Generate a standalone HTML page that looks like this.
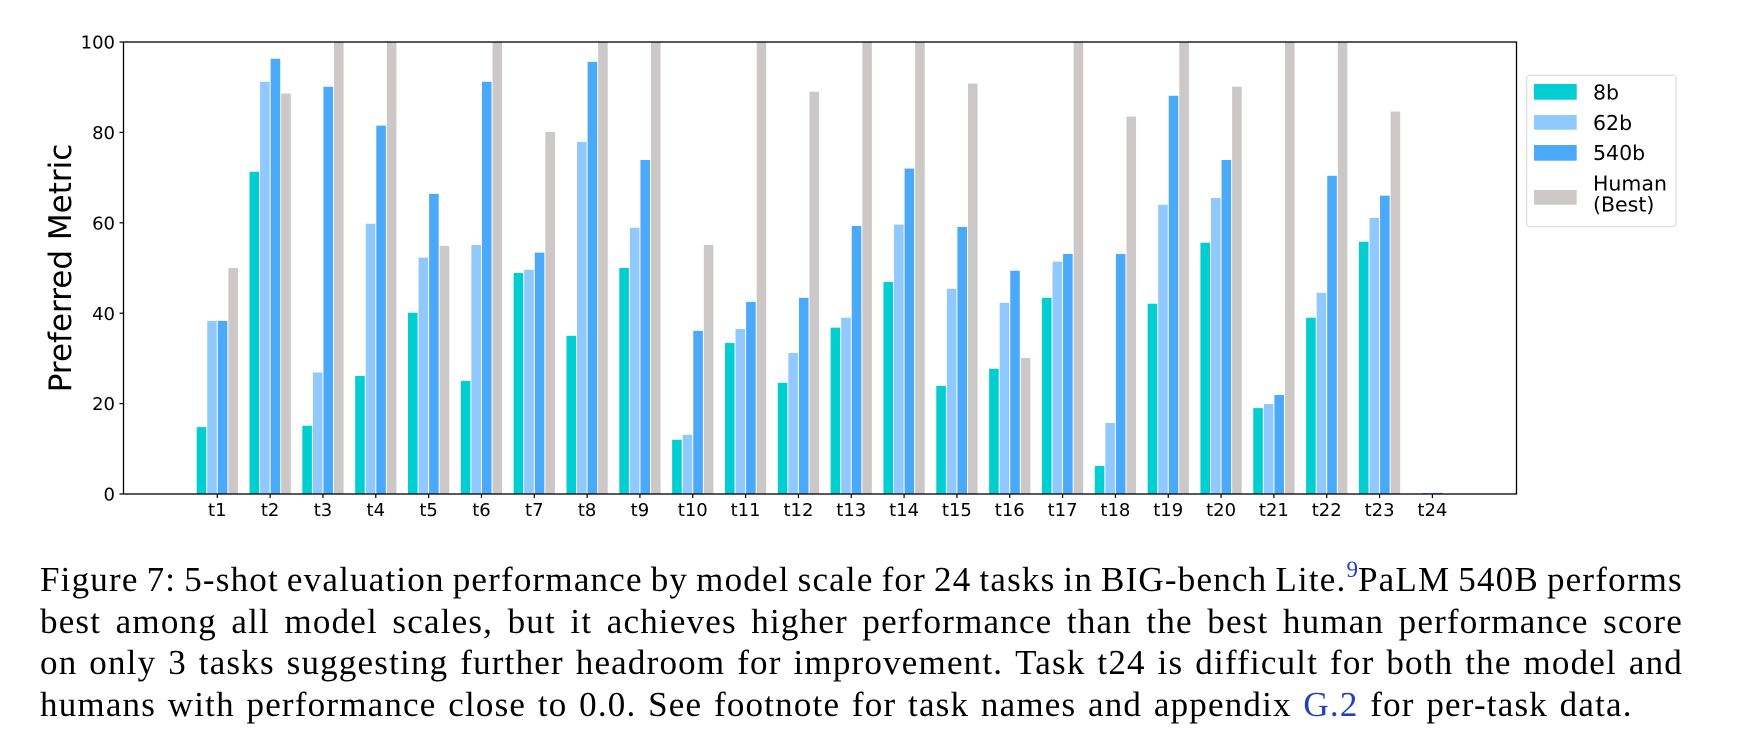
<!DOCTYPE html>
<html>
<head>
<meta charset="utf-8">
<style>
  html,body{margin:0;padding:0;background:#fff;}
  body{width:1742px;height:744px;position:relative;overflow:hidden;}
  svg{position:absolute;left:0;top:0;}
  .cap{position:absolute;left:40px;height:41.5px;line-height:41.5px;font-family:"Liberation Serif",serif;font-size:35px;color:#000;white-space:nowrap;display:flex;align-items:baseline;letter-spacing:1.2px;}
  .j{width:1643px;justify-content:space-between;}
  .l4{gap:11.7px;}
  .blue{color:#1f3fc4;}
  sup{font-size:23px;line-height:0;vertical-align:0;position:relative;top:-14px;letter-spacing:0;}
</style>
</head>
<body>
<svg width="1742" height="744" viewBox="0 0 1742 744" xmlns="http://www.w3.org/2000/svg">
  <!-- bars -->
  <g transform="translate(0,494) scale(1,-4.52)">
    <g transform="translate(217.30,0)"><rect x="-20.63" y="0" width="9.57" height="14.8" fill="#00CED1"/><rect x="-10.07" y="0" width="9.57" height="38.3" fill="#8FC9FF"/><rect x="0.50" y="0" width="9.57" height="38.3" fill="#4BA9F9"/><rect x="11.06" y="0" width="9.57" height="50.0" fill="#CCC8C8"/></g>
    <g transform="translate(270.13,0)"><rect x="-20.63" y="0" width="9.57" height="71.3" fill="#00CED1"/><rect x="-10.07" y="0" width="9.57" height="91.2" fill="#8FC9FF"/><rect x="0.50" y="0" width="9.57" height="96.3" fill="#4BA9F9"/><rect x="11.06" y="0" width="9.57" height="88.6" fill="#CCC8C8"/></g>
    <g transform="translate(322.96,0)"><rect x="-20.63" y="0" width="9.57" height="15.1" fill="#00CED1"/><rect x="-10.07" y="0" width="9.57" height="26.9" fill="#8FC9FF"/><rect x="0.50" y="0" width="9.57" height="90.1" fill="#4BA9F9"/><rect x="11.06" y="0" width="9.57" height="100" fill="#CCC8C8"/></g>
    <g transform="translate(375.79,0)"><rect x="-20.63" y="0" width="9.57" height="26.1" fill="#00CED1"/><rect x="-10.07" y="0" width="9.57" height="59.8" fill="#8FC9FF"/><rect x="0.50" y="0" width="9.57" height="81.5" fill="#4BA9F9"/><rect x="11.06" y="0" width="9.57" height="100" fill="#CCC8C8"/></g>
    <g transform="translate(428.62,0)"><rect x="-20.63" y="0" width="9.57" height="40.1" fill="#00CED1"/><rect x="-10.07" y="0" width="9.57" height="52.3" fill="#8FC9FF"/><rect x="0.50" y="0" width="9.57" height="66.4" fill="#4BA9F9"/><rect x="11.06" y="0" width="9.57" height="54.9" fill="#CCC8C8"/></g>
    <g transform="translate(481.45,0)"><rect x="-20.63" y="0" width="9.57" height="25.0" fill="#00CED1"/><rect x="-10.07" y="0" width="9.57" height="55.1" fill="#8FC9FF"/><rect x="0.50" y="0" width="9.57" height="91.2" fill="#4BA9F9"/><rect x="11.06" y="0" width="9.57" height="100" fill="#CCC8C8"/></g>
    <g transform="translate(534.28,0)"><rect x="-20.63" y="0" width="9.57" height="48.9" fill="#00CED1"/><rect x="-10.07" y="0" width="9.57" height="49.6" fill="#8FC9FF"/><rect x="0.50" y="0" width="9.57" height="53.4" fill="#4BA9F9"/><rect x="11.06" y="0" width="9.57" height="80.1" fill="#CCC8C8"/></g>
    <g transform="translate(587.11,0)"><rect x="-20.63" y="0" width="9.57" height="35.0" fill="#00CED1"/><rect x="-10.07" y="0" width="9.57" height="77.9" fill="#8FC9FF"/><rect x="0.50" y="0" width="9.57" height="95.6" fill="#4BA9F9"/><rect x="11.06" y="0" width="9.57" height="100" fill="#CCC8C8"/></g>
    <g transform="translate(639.94,0)"><rect x="-20.63" y="0" width="9.57" height="50.0" fill="#00CED1"/><rect x="-10.07" y="0" width="9.57" height="58.9" fill="#8FC9FF"/><rect x="0.50" y="0" width="9.57" height="73.9" fill="#4BA9F9"/><rect x="11.06" y="0" width="9.57" height="100" fill="#CCC8C8"/></g>
    <g transform="translate(692.77,0)"><rect x="-20.63" y="0" width="9.57" height="12.0" fill="#00CED1"/><rect x="-10.07" y="0" width="9.57" height="13.1" fill="#8FC9FF"/><rect x="0.50" y="0" width="9.57" height="36.1" fill="#4BA9F9"/><rect x="11.06" y="0" width="9.57" height="55.1" fill="#CCC8C8"/></g>
    <g transform="translate(745.60,0)"><rect x="-20.63" y="0" width="9.57" height="33.4" fill="#00CED1"/><rect x="-10.07" y="0" width="9.57" height="36.5" fill="#8FC9FF"/><rect x="0.50" y="0" width="9.57" height="42.5" fill="#4BA9F9"/><rect x="11.06" y="0" width="9.57" height="100" fill="#CCC8C8"/></g>
    <g transform="translate(798.43,0)"><rect x="-20.63" y="0" width="9.57" height="24.6" fill="#00CED1"/><rect x="-10.07" y="0" width="9.57" height="31.2" fill="#8FC9FF"/><rect x="0.50" y="0" width="9.57" height="43.4" fill="#4BA9F9"/><rect x="11.06" y="0" width="9.57" height="89.0" fill="#CCC8C8"/></g>
    <g transform="translate(851.26,0)"><rect x="-20.63" y="0" width="9.57" height="36.8" fill="#00CED1"/><rect x="-10.07" y="0" width="9.57" height="39.0" fill="#8FC9FF"/><rect x="0.50" y="0" width="9.57" height="59.3" fill="#4BA9F9"/><rect x="11.06" y="0" width="9.57" height="100" fill="#CCC8C8"/></g>
    <g transform="translate(904.09,0)"><rect x="-20.63" y="0" width="9.57" height="46.9" fill="#00CED1"/><rect x="-10.07" y="0" width="9.57" height="59.6" fill="#8FC9FF"/><rect x="0.50" y="0" width="9.57" height="72.0" fill="#4BA9F9"/><rect x="11.06" y="0" width="9.57" height="100" fill="#CCC8C8"/></g>
    <g transform="translate(956.92,0)"><rect x="-20.63" y="0" width="9.57" height="23.9" fill="#00CED1"/><rect x="-10.07" y="0" width="9.57" height="45.4" fill="#8FC9FF"/><rect x="0.50" y="0" width="9.57" height="59.1" fill="#4BA9F9"/><rect x="11.06" y="0" width="9.57" height="90.8" fill="#CCC8C8"/></g>
    <g transform="translate(1009.75,0)"><rect x="-20.63" y="0" width="9.57" height="27.7" fill="#00CED1"/><rect x="-10.07" y="0" width="9.57" height="42.3" fill="#8FC9FF"/><rect x="0.50" y="0" width="9.57" height="49.4" fill="#4BA9F9"/><rect x="11.06" y="0" width="9.57" height="30.1" fill="#CCC8C8"/></g>
    <g transform="translate(1062.58,0)"><rect x="-20.63" y="0" width="9.57" height="43.4" fill="#00CED1"/><rect x="-10.07" y="0" width="9.57" height="51.4" fill="#8FC9FF"/><rect x="0.50" y="0" width="9.57" height="53.1" fill="#4BA9F9"/><rect x="11.06" y="0" width="9.57" height="100" fill="#CCC8C8"/></g>
    <g transform="translate(1115.41,0)"><rect x="-20.63" y="0" width="9.57" height="6.2" fill="#00CED1"/><rect x="-10.07" y="0" width="9.57" height="15.7" fill="#8FC9FF"/><rect x="0.50" y="0" width="9.57" height="53.1" fill="#4BA9F9"/><rect x="11.06" y="0" width="9.57" height="83.5" fill="#CCC8C8"/></g>
    <g transform="translate(1168.24,0)"><rect x="-20.63" y="0" width="9.57" height="42.1" fill="#00CED1"/><rect x="-10.07" y="0" width="9.57" height="64.0" fill="#8FC9FF"/><rect x="0.50" y="0" width="9.57" height="88.1" fill="#4BA9F9"/><rect x="11.06" y="0" width="9.57" height="100" fill="#CCC8C8"/></g>
    <g transform="translate(1221.07,0)"><rect x="-20.63" y="0" width="9.57" height="55.6" fill="#00CED1"/><rect x="-10.07" y="0" width="9.57" height="65.5" fill="#8FC9FF"/><rect x="0.50" y="0" width="9.57" height="73.9" fill="#4BA9F9"/><rect x="11.06" y="0" width="9.57" height="90.1" fill="#CCC8C8"/></g>
    <g transform="translate(1273.90,0)"><rect x="-20.63" y="0" width="9.57" height="19.0" fill="#00CED1"/><rect x="-10.07" y="0" width="9.57" height="19.9" fill="#8FC9FF"/><rect x="0.50" y="0" width="9.57" height="21.9" fill="#4BA9F9"/><rect x="11.06" y="0" width="9.57" height="100" fill="#CCC8C8"/></g>
    <g transform="translate(1326.73,0)"><rect x="-20.63" y="0" width="9.57" height="39.0" fill="#00CED1"/><rect x="-10.07" y="0" width="9.57" height="44.5" fill="#8FC9FF"/><rect x="0.50" y="0" width="9.57" height="70.4" fill="#4BA9F9"/><rect x="11.06" y="0" width="9.57" height="100" fill="#CCC8C8"/></g>
    <g transform="translate(1379.56,0)"><rect x="-20.63" y="0" width="9.57" height="55.8" fill="#00CED1"/><rect x="-10.07" y="0" width="9.57" height="61.1" fill="#8FC9FF"/><rect x="0.50" y="0" width="9.57" height="66.0" fill="#4BA9F9"/><rect x="11.06" y="0" width="9.57" height="84.6" fill="#CCC8C8"/></g>
    <g transform="translate(1432.39,0)"><rect x="-10.07" y="0" width="9.57" height="0.25" fill="#8FC9FF"/><rect x="0.50" y="0" width="9.57" height="0.25" fill="#4BA9F9"/></g>
  </g>

  <!-- axes frame -->
  <rect x="123.5" y="42" width="1393" height="452" fill="none" stroke="#000" stroke-width="1.3"/>

  <!-- y ticks -->
  <g stroke="#000" stroke-width="1.2">
    <line x1="119.5" y1="494" x2="123.5" y2="494"/>
    <line x1="119.5" y1="403.6" x2="123.5" y2="403.6"/>
    <line x1="119.5" y1="313.2" x2="123.5" y2="313.2"/>
    <line x1="119.5" y1="222.8" x2="123.5" y2="222.8"/>
    <line x1="119.5" y1="132.4" x2="123.5" y2="132.4"/>
    <line x1="119.5" y1="42" x2="123.5" y2="42"/>
  </g>
  <g font-family="DejaVu Sans, Liberation Sans, sans-serif" font-size="18" fill="#000" text-anchor="end">
    <text x="115" y="500.6">0</text>
    <text x="115" y="410.2">20</text>
    <text x="115" y="319.8">40</text>
    <text x="115" y="229.4">60</text>
    <text x="115" y="139">80</text>
    <text x="115" y="48.6">100</text>
  </g>

  <!-- x ticks -->
  <g stroke="#000" stroke-width="1.2">
    <line x1="217.30" y1="494" x2="217.30" y2="498"/>
    <line x1="270.13" y1="494" x2="270.13" y2="498"/>
    <line x1="322.96" y1="494" x2="322.96" y2="498"/>
    <line x1="375.79" y1="494" x2="375.79" y2="498"/>
    <line x1="428.62" y1="494" x2="428.62" y2="498"/>
    <line x1="481.45" y1="494" x2="481.45" y2="498"/>
    <line x1="534.28" y1="494" x2="534.28" y2="498"/>
    <line x1="587.11" y1="494" x2="587.11" y2="498"/>
    <line x1="639.94" y1="494" x2="639.94" y2="498"/>
    <line x1="692.77" y1="494" x2="692.77" y2="498"/>
    <line x1="745.60" y1="494" x2="745.60" y2="498"/>
    <line x1="798.43" y1="494" x2="798.43" y2="498"/>
    <line x1="851.26" y1="494" x2="851.26" y2="498"/>
    <line x1="904.09" y1="494" x2="904.09" y2="498"/>
    <line x1="956.92" y1="494" x2="956.92" y2="498"/>
    <line x1="1009.75" y1="494" x2="1009.75" y2="498"/>
    <line x1="1062.58" y1="494" x2="1062.58" y2="498"/>
    <line x1="1115.41" y1="494" x2="1115.41" y2="498"/>
    <line x1="1168.24" y1="494" x2="1168.24" y2="498"/>
    <line x1="1221.07" y1="494" x2="1221.07" y2="498"/>
    <line x1="1273.90" y1="494" x2="1273.90" y2="498"/>
    <line x1="1326.73" y1="494" x2="1326.73" y2="498"/>
    <line x1="1379.56" y1="494" x2="1379.56" y2="498"/>
    <line x1="1432.39" y1="494" x2="1432.39" y2="498"/>
  </g>
  <g font-family="DejaVu Sans, Liberation Sans, sans-serif" font-size="18" fill="#000" text-anchor="middle">
    <text x="217.30" y="516">t1</text>
    <text x="270.13" y="516">t2</text>
    <text x="322.96" y="516">t3</text>
    <text x="375.79" y="516">t4</text>
    <text x="428.62" y="516">t5</text>
    <text x="481.45" y="516">t6</text>
    <text x="534.28" y="516">t7</text>
    <text x="587.11" y="516">t8</text>
    <text x="639.94" y="516">t9</text>
    <text x="692.77" y="516">t10</text>
    <text x="745.60" y="516">t11</text>
    <text x="798.43" y="516">t12</text>
    <text x="851.26" y="516">t13</text>
    <text x="904.09" y="516">t14</text>
    <text x="956.92" y="516">t15</text>
    <text x="1009.75" y="516">t16</text>
    <text x="1062.58" y="516">t17</text>
    <text x="1115.41" y="516">t18</text>
    <text x="1168.24" y="516">t19</text>
    <text x="1221.07" y="516">t20</text>
    <text x="1273.90" y="516">t21</text>
    <text x="1326.73" y="516">t22</text>
    <text x="1379.56" y="516">t23</text>
    <text x="1432.39" y="516">t24</text>
  </g>

  <!-- y axis label -->
  <text transform="translate(71,268) rotate(-90)" text-anchor="middle" font-family="DejaVu Sans, Liberation Sans, sans-serif" font-size="31" fill="#000">Preferred Metric</text>

  <!-- legend -->
  <rect x="1526.7" y="75.3" width="149.3" height="151.4" rx="3" ry="3" fill="#fff" stroke="#d6d6d6" stroke-width="1"/>
  <rect x="1534" y="84" width="42.7" height="15.7" fill="#00CED1"/>
  <rect x="1534" y="115" width="42.7" height="14.7" fill="#8FC9FF"/>
  <rect x="1534" y="145" width="42.7" height="15.7" fill="#4BA9F9"/>
  <rect x="1534" y="190" width="42.7" height="14.7" fill="#CCC8C8"/>
  <g font-family="DejaVu Sans, Liberation Sans, sans-serif" font-size="20.5" fill="#000">
    <text x="1593" y="99.3">8b</text>
    <text x="1593" y="130">62b</text>
    <text x="1593" y="160">540b</text>
    <text x="1593" y="190.5">Human</text>
    <text x="1593" y="211.5">(Best)</text>
  </g>
</svg>

<div class="cap j" style="top:559.1px;"><span>Figure</span><span>7:</span><span>5-shot</span><span>evaluation</span><span>performance</span><span>by</span><span>model</span><span>scale</span><span>for</span><span>24</span><span>tasks</span><span>in</span><span>BIG-bench</span><span>Lite.<sup class="blue">9</sup>PaLM</span><span>540B</span><span>performs</span></div>
<div class="cap j" style="top:600.6px;"><span>best</span><span>among</span><span>all</span><span>model</span><span>scales,</span><span>but</span><span>it</span><span>achieves</span><span>higher</span><span>performance</span><span>than</span><span>the</span><span>best</span><span>human</span><span>performance</span><span>score</span></div>
<div class="cap j" style="top:642.1px;"><span>on</span><span>only</span><span>3</span><span>tasks</span><span>suggesting</span><span>further</span><span>headroom</span><span>for</span><span>improvement.</span><span>Task</span><span>t24</span><span>is</span><span>difficult</span><span>for</span><span>both</span><span>the</span><span>model</span><span>and</span></div>
<div class="cap l4" style="top:683.6px;"><span>humans</span><span>with</span><span>performance</span><span>close</span><span>to</span><span>0.0.</span><span>See</span><span>footnote</span><span>for</span><span>task</span><span>names</span><span>and</span><span>appendix</span><span class="blue">G.2</span><span>for</span><span>per-task</span><span>data.</span></div>
</body>
</html>
